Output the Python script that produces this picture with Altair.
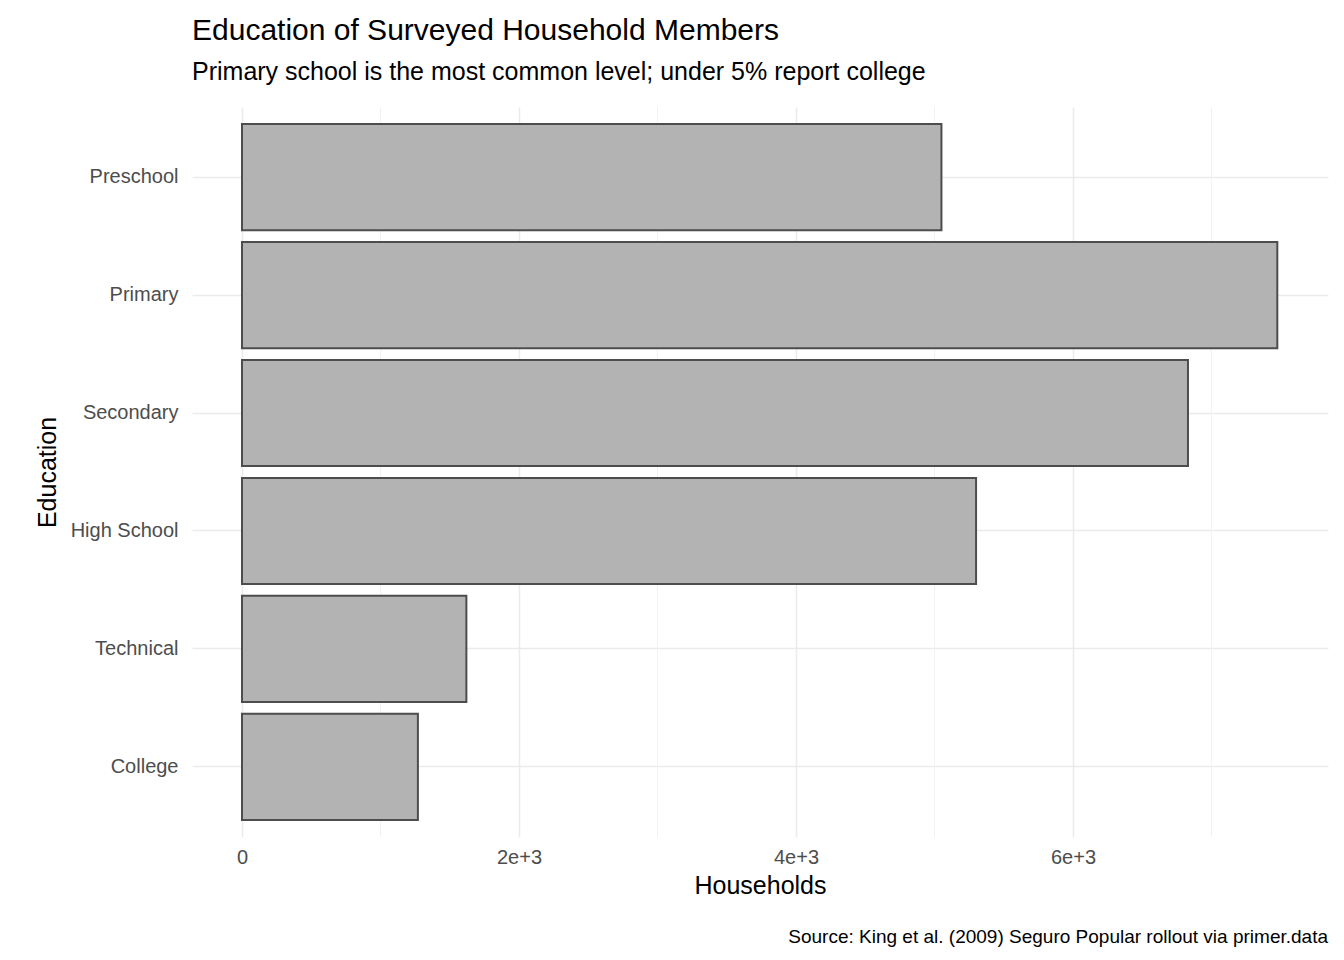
import altair as alt
import pandas as pd

levels = ["Preschool", "Primary", "Secondary", "High School", "Technical", "College"]
households = [5050, 7475, 6830, 5300, 1620, 1270]
minor_breaks = [1000, 3000, 5000, 7000]

W, H = 1136, 730
df = pd.DataFrame({"Education": levels, "Households": households})
xscale = alt.Scale(domain=[-361, 7841], nice=False, zero=False)
yscale = alt.Scale(domain=levels, paddingInner=0.1, paddingOuter=0.144)

minor = alt.Chart(pd.DataFrame({"v": minor_breaks})).mark_rule(
    color="#f2f2f2", strokeWidth=1
).encode(x=alt.X("v:Q", scale=xscale))

bars = alt.Chart(df).mark_bar(
    fill="#b3b3b3", stroke="#4d4d4d", strokeWidth=2
).encode(
    x=alt.X("Households:Q", scale=xscale, title="Households",
            axis=alt.Axis(values=[0, 2000, 4000, 6000], format=",", grid=True,
                          gridColor="#ebebeb", gridWidth=1.5, ticks=False, domain=False,
                          labelFontSize=20, labelColor="#4d4d4d", labelPadding=10,
                          titleFontSize=25, titleColor="#000", titleFontWeight="normal",
                          titlePadding=6)),
    y=alt.Y("Education:N", scale=yscale, title="Education",
            axis=alt.Axis(grid=True, bandPosition=0.5, gridColor="#ebebeb", gridWidth=1.5,
                          ticks=False, domain=False, labelFontSize=20, labelColor="#4d4d4d",
                          labelPadding=14, titleFontSize=25, titleColor="#000",
                          titleFontWeight="normal", titlePadding=10)),
)

caption = alt.Chart(pd.DataFrame({"t": ["Source: King et al. (2009) Seguro Popular rollout via primer.data"]})).mark_text(
    align="right", baseline="bottom", fontSize=19, color="#000", font="Liberation Sans"
).encode(text="t:N", x=alt.value(W), y=alt.value(H + 110))

chart = alt.layer(minor, bars, caption).properties(
    width=W, height=H,
    autosize=alt.AutoSizeParams(type="none"),
    padding={"left": 184, "top": 99, "right": 8, "bottom": 130},
    title=alt.TitleParams(
        "Education of Surveyed Household Members",
        subtitle="Primary school is the most common level; under 5% report college",
        anchor="start", frame="group", fontSize=30, subtitleFontSize=25, fontWeight="normal",
        color="#000", subtitleColor="#000", subtitlePadding=14, offset=22,
        font="Liberation Sans", subtitleFont="Liberation Sans",
    ),
).configure(font="Liberation Sans").configure_view(stroke=None)

chart.save("out.html", embed_options={"renderer": "svg", "actions": False})
